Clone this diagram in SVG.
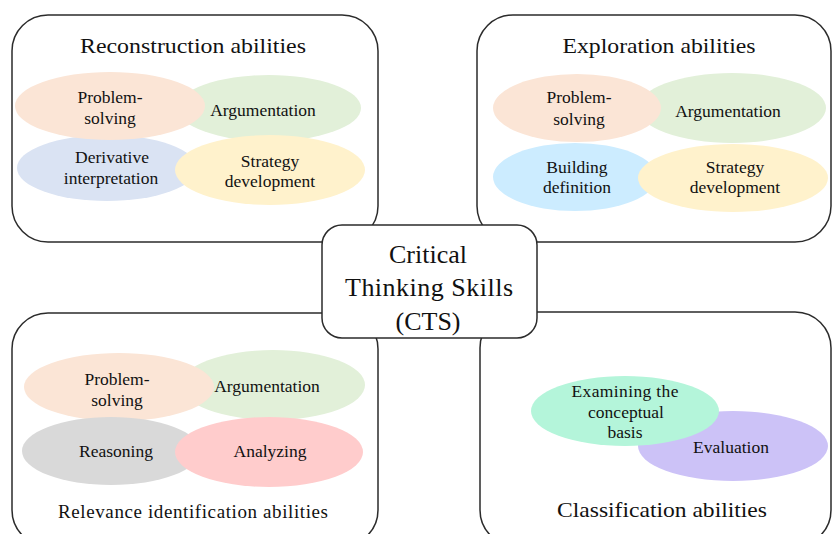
<svg xmlns="http://www.w3.org/2000/svg" width="833" height="534" viewBox="0 0 833 534">
<style>
.box{fill:#fff;stroke:#2b2b2b;stroke-width:1.5}
text{font-family:"Liberation Serif","Times New Roman",serif;fill:#111;text-anchor:middle}
.t{font-size:22px}
.e{font-size:17.5px}
.c{font-size:26px}
</style>
<rect width="833" height="534" fill="#fff"/>
<g id="reconstruction">
<rect class="box" x="12" y="15" width="366" height="227" rx="36"/>
<text class="t" x="193" y="53" textLength="226" lengthAdjust="spacingAndGlyphs">Reconstruction abilities</text>
<ellipse cx="269" cy="108" rx="92" ry="33" fill="#E2F0D9"/>
<ellipse cx="107" cy="168" rx="90" ry="33" fill="#DAE3F3"/>
<ellipse cx="110" cy="106" rx="95" ry="34" fill="#FBE5D6"/>
<ellipse cx="270" cy="170" rx="95" ry="35" fill="#FFF2CC"/>
<text class="e" x="110" y="103">Problem-</text>
<text class="e" x="110" y="124">solving</text>
<text class="e" x="263" y="116">Argumentation</text>
<text class="e" x="112" y="163">Derivative</text>
<text class="e" x="111" y="184">interpretation</text>
<text class="e" x="270" y="167">Strategy</text>
<text class="e" x="270" y="187">development</text>
</g>
<g id="exploration">
<rect class="box" x="477" y="15" width="354" height="227" rx="36"/>
<text class="t" x="659" y="53" textLength="193" lengthAdjust="spacingAndGlyphs">Exploration abilities</text>
<ellipse cx="732" cy="108" rx="94" ry="35" fill="#E2F0D9"/>
<ellipse cx="577" cy="108" rx="84" ry="34" fill="#FBE5D6"/>
<ellipse cx="575" cy="177" rx="82" ry="34" fill="#CCECFF"/>
<ellipse cx="733" cy="178" rx="95" ry="34" fill="#FFF2CC"/>
<text class="e" x="579" y="103">Problem-</text>
<text class="e" x="579" y="125">solving</text>
<text class="e" x="728" y="117">Argumentation</text>
<text class="e" x="577" y="173">Building</text>
<text class="e" x="577" y="193">definition</text>
<text class="e" x="735" y="173">Strategy</text>
<text class="e" x="735" y="193">development</text>
</g>
<g id="relevance">
<rect class="box" x="12" y="313" width="366" height="233" rx="36"/>
<ellipse cx="273" cy="385" rx="92" ry="35" fill="#E2F0D9"/>
<ellipse cx="119" cy="387" rx="95" ry="34" fill="#FBE5D6"/>
<ellipse cx="111" cy="451" rx="89" ry="34" fill="#D9D9D9"/>
<ellipse cx="269" cy="452" rx="94" ry="35" fill="#FFCCCC"/>
<text class="e" x="117" y="385">Problem-</text>
<text class="e" x="117" y="406">solving</text>
<text class="e" x="267" y="392">Argumentation</text>
<text class="e" x="116" y="457">Reasoning</text>
<text class="e" x="270" y="457">Analyzing</text>
<text class="t" x="193" y="518" style="font-size:19px" textLength="270" lengthAdjust="spacing">Relevance identification abilities</text>
</g>
<g id="classification">
<rect class="box" x="480" y="312" width="351" height="234" rx="36"/>
<ellipse cx="733" cy="446" rx="95" ry="35" fill="#CCC2F7"/>
<ellipse cx="625" cy="411" rx="94" ry="35" fill="#B4F5DA"/>
<text class="e" x="625" y="397" textLength="107" lengthAdjust="spacing">Examining the</text>
<text class="e" x="626" y="418">conceptual</text>
<text class="e" x="625" y="438">basis</text>
<text class="e" x="731" y="453">Evaluation</text>
<text class="t" x="662" y="517" textLength="210" lengthAdjust="spacingAndGlyphs">Classification abilities</text>
</g>
<g id="connectors"></g>
<g id="cts">
<rect class="box" x="322" y="225" width="215" height="113" rx="20"/>
<text class="c" x="428" y="263">Critical</text>
<text class="c" x="429" y="296" textLength="168" lengthAdjust="spacing">Thinking Skills</text>
<text class="c" x="428" y="330">(CTS)</text>
</g>
</svg>
